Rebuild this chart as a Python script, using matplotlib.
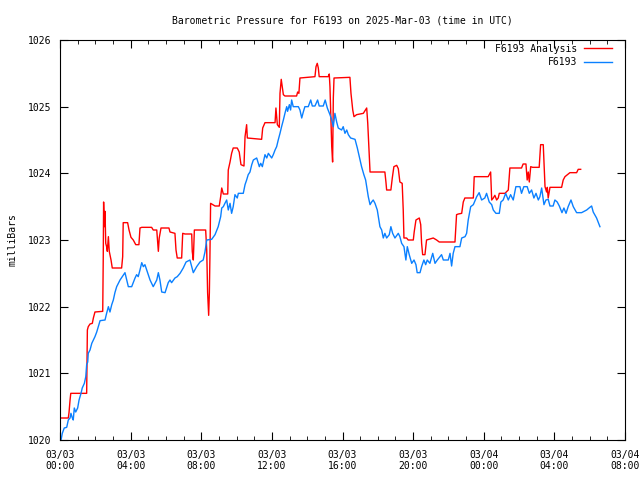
import pandas as pd
import matplotlib
matplotlib.use("Agg")
import matplotlib.pyplot as plt
import matplotlib.dates as mdates

# hours after 2025-03-03 00:00 UTC, pressure in mbar
analysis_hours = [0.00, 0.47, 0.51, 0.57, 0.61, 1.51, 1.55, 1.60, 1.70, 1.83, 1.89, 1.98, 2.42, 2.45,
                  2.47, 2.51, 2.55, 2.59, 2.64, 2.68, 2.74, 2.79, 2.89, 2.96, 3.49, 3.55, 3.58, 3.83,
                  3.91, 4.02, 4.15, 4.29, 4.47, 4.53, 4.63, 5.19, 5.28, 5.48, 5.57, 5.62, 5.72, 6.17,
                  6.23, 6.51, 6.57, 6.64, 6.89, 6.95, 7.08, 7.46, 7.49, 7.55, 7.61, 8.25, 8.31, 8.36,
                  8.42, 8.46, 8.49, 8.53, 8.78, 9.02, 9.10, 9.16, 9.25, 9.50, 9.53, 9.63, 9.72, 9.81,
                  10.04, 10.15, 10.25, 10.42, 10.48, 10.57, 10.61, 11.42, 11.48, 11.61, 12.18, 12.23,
                  12.31, 12.42, 12.46, 12.53, 12.65, 12.74, 13.40, 13.46, 13.53, 13.59, 14.44, 14.50,
                  14.57, 14.63, 14.68, 15.19, 15.25, 15.29, 15.39, 15.44, 15.48, 15.52, 16.42, 16.48,
                  16.58, 16.65, 16.80, 17.18, 17.37, 17.43, 17.52, 17.56, 18.40, 18.46, 18.50, 18.74,
                  18.82, 18.91, 19.07, 19.16, 19.25, 19.38, 19.44, 19.48, 19.63, 19.72, 20.01, 20.06,
                  20.16, 20.35, 20.43, 20.48, 20.54, 20.67, 20.76, 21.14, 21.33, 21.48, 22.37, 22.46,
                  22.56, 22.75, 22.84, 22.93, 23.41, 23.46, 24.25, 24.39, 24.45, 24.54, 24.63, 24.73,
                  24.82, 24.88, 25.20, 25.39, 25.48, 26.14, 26.23, 26.39, 26.46, 26.52, 26.58, 26.66,
                  26.77, 27.14, 27.22, 27.37, 27.47, 27.56, 27.60, 27.65, 27.75, 28.41, 28.50, 28.60,
                  28.88, 29.26, 29.35, 29.49]
analysis_mb = [1020.33, 1020.33, 1020.41, 1020.60, 1020.70, 1020.70, 1021.65, 1021.70, 1021.74, 1021.75,
               1021.83, 1021.92, 1021.93, 1022.75, 1023.57, 1023.20, 1023.43, 1022.95, 1022.90, 1022.83,
               1023.05, 1022.83, 1022.70, 1022.58, 1022.58, 1022.75, 1023.26, 1023.26, 1023.15, 1023.04,
               1023.00, 1022.93, 1022.93, 1023.18, 1023.19, 1023.19, 1023.15, 1023.15, 1022.83, 1023.03,
               1023.18, 1023.18, 1023.12, 1023.10, 1022.85, 1022.73, 1022.73, 1023.10, 1023.09, 1023.09,
               1022.83, 1022.70, 1023.15, 1023.15, 1022.85, 1022.21, 1021.87, 1022.21, 1022.73, 1023.55,
               1023.51, 1023.51, 1023.65, 1023.78, 1023.69, 1023.69, 1024.05, 1024.17, 1024.30, 1024.38,
               1024.38, 1024.32, 1024.13, 1024.11, 1024.55, 1024.73, 1024.53, 1024.51, 1024.68, 1024.76,
               1024.76, 1024.98, 1024.73, 1024.69, 1025.20, 1025.41, 1025.18, 1025.16, 1025.16, 1025.22,
               1025.20, 1025.43, 1025.45, 1025.60, 1025.65, 1025.58, 1025.45, 1025.45, 1025.49, 1025.30,
               1024.40, 1024.17, 1025.13, 1025.43, 1025.44, 1025.20, 1024.95, 1024.85, 1024.88, 1024.90,
               1024.98, 1024.75, 1024.25, 1024.02, 1024.02, 1023.87, 1023.75, 1023.75, 1023.93, 1024.10,
               1024.12, 1024.07, 1023.87, 1023.85, 1023.45, 1023.03, 1023.03, 1023.00, 1023.00, 1023.12,
               1023.30, 1023.33, 1023.23, 1022.95, 1022.78, 1022.78, 1023.00, 1023.03, 1023.00, 1022.97,
               1022.97, 1023.38, 1023.39, 1023.40, 1023.57, 1023.63, 1023.63, 1023.95, 1023.95, 1024.02,
               1023.60, 1023.63, 1023.67, 1023.60, 1023.63, 1023.70, 1023.70, 1023.75, 1024.08, 1024.08,
               1024.14, 1024.14, 1023.90, 1024.02, 1023.87, 1024.10, 1024.09, 1024.09, 1024.43, 1024.43,
               1023.80, 1023.72, 1023.79, 1023.63, 1023.79, 1023.79, 1023.90, 1023.95, 1024.01, 1024.01,
               1024.06, 1024.06]

station_hours = [0.06, 0.13, 0.24, 0.38, 0.47, 0.57, 0.62, 0.70, 0.75, 0.81, 0.89, 1.00, 1.08, 1.19,
                 1.26, 1.38, 1.46, 1.51, 1.57, 1.60, 1.70, 1.80, 1.89, 1.98, 2.08, 2.17, 2.27, 2.55,
                 2.64, 2.74, 2.83, 2.93, 3.02, 3.11, 3.21, 3.40, 3.68, 3.87, 4.06, 4.25, 4.34, 4.43,
                 4.53, 4.63, 4.72, 4.81, 4.91, 5.10, 5.28, 5.48, 5.57, 5.66, 5.76, 5.95, 6.13, 6.23,
                 6.32, 6.51, 6.64, 6.80, 6.98, 7.14, 7.36, 7.46, 7.55, 7.74, 7.93, 8.11, 8.21, 8.31,
                 8.59, 8.78, 8.96, 9.10, 9.16, 9.25, 9.34, 9.44, 9.53, 9.63, 9.72, 9.81, 9.91, 10.04,
                 10.10, 10.38, 10.48, 10.57, 10.66, 10.76, 10.86, 10.95, 11.14, 11.29, 11.37, 11.46,
                 11.61, 11.71, 11.80, 11.99, 12.08, 12.18, 12.27, 12.36, 12.46, 12.55, 12.65, 12.74,
                 12.84, 12.89, 12.99, 13.06, 13.12, 13.21, 13.50, 13.59, 13.69, 13.78, 13.87, 14.06,
                 14.20, 14.29, 14.44, 14.59, 14.68, 14.91, 15.02, 15.14, 15.29, 15.39, 15.48, 15.57,
                 15.67, 15.76, 15.95, 16.04, 16.14, 16.24, 16.33, 16.46, 16.71, 16.84, 16.95, 17.08,
                 17.21, 17.31, 17.37, 17.46, 17.56, 17.65, 17.74, 17.84, 17.97, 18.06, 18.12, 18.22,
                 18.31, 18.40, 18.50, 18.65, 18.74, 18.84, 18.97, 19.16, 19.25, 19.35, 19.48, 19.59,
                 19.67, 19.78, 19.92, 20.05, 20.16, 20.23, 20.39, 20.48, 20.61, 20.71, 20.80, 20.95,
                 21.11, 21.24, 21.37, 21.61, 21.71, 21.99, 22.09, 22.18, 22.27, 22.37, 22.65, 22.75,
                 22.94, 23.03, 23.12, 23.26, 23.41, 23.60, 23.74, 23.88, 24.06, 24.16, 24.31, 24.45,
                 24.54, 24.69, 24.88, 24.97, 25.10, 25.24, 25.39, 25.52, 25.67, 25.82, 26.05, 26.14,
                 26.27, 26.46, 26.58, 26.71, 26.84, 26.96, 27.09, 27.18, 27.28, 27.41, 27.52, 27.65,
                 27.75, 27.93, 28.03, 28.16, 28.28, 28.43, 28.54, 28.66, 28.78, 28.94, 29.07, 29.26,
                 29.54, 29.83, 30.01, 30.11, 30.20, 30.39, 30.58]
station_mb = [1020.00, 1020.10, 1020.18, 1020.19, 1020.30, 1020.33, 1020.40, 1020.33, 1020.30, 1020.48,
              1020.42, 1020.48, 1020.60, 1020.70, 1020.78, 1020.85, 1020.95, 1021.13, 1021.17, 1021.30,
              1021.35, 1021.45, 1021.50, 1021.55, 1021.62, 1021.70, 1021.79, 1021.80, 1021.90, 1022.00,
              1021.92, 1022.03, 1022.10, 1022.21, 1022.30, 1022.40, 1022.51, 1022.30, 1022.30, 1022.43,
              1022.48, 1022.45, 1022.55, 1022.66, 1022.60, 1022.63, 1022.55, 1022.40, 1022.30, 1022.40,
              1022.51, 1022.40, 1022.22, 1022.21, 1022.36, 1022.40, 1022.36, 1022.43, 1022.45, 1022.50,
              1022.58, 1022.67, 1022.70, 1022.60, 1022.51, 1022.60, 1022.67, 1022.70, 1022.82, 1023.00,
              1023.01, 1023.08, 1023.20, 1023.35, 1023.48, 1023.50, 1023.55, 1023.60, 1023.45, 1023.55,
              1023.40, 1023.50, 1023.68, 1023.63, 1023.70, 1023.70, 1023.83, 1023.90, 1023.98, 1024.02,
              1024.13, 1024.20, 1024.23, 1024.10, 1024.15, 1024.10, 1024.28, 1024.23, 1024.30, 1024.23,
              1024.28, 1024.35, 1024.40, 1024.50, 1024.60, 1024.70, 1024.80, 1024.90, 1025.00, 1024.93,
              1025.03, 1024.95, 1025.10, 1025.00, 1025.00, 1024.95, 1024.83, 1024.92, 1025.00, 1025.00,
              1025.10, 1025.01, 1025.01, 1025.10, 1025.01, 1025.01, 1025.10, 1024.98, 1024.88, 1024.80,
              1024.70, 1024.90, 1024.77, 1024.68, 1024.65, 1024.70, 1024.60, 1024.65, 1024.58, 1024.53,
              1024.51, 1024.38, 1024.25, 1024.10, 1023.98, 1023.90, 1023.80, 1023.65, 1023.53, 1023.57,
              1023.60, 1023.55, 1023.45, 1023.30, 1023.20, 1023.15, 1023.03, 1023.10, 1023.03, 1023.08,
              1023.20, 1023.10, 1023.03, 1023.10, 1023.05, 1022.95, 1022.90, 1022.70, 1022.90, 1022.78,
              1022.65, 1022.70, 1022.63, 1022.51, 1022.51, 1022.60, 1022.70, 1022.63, 1022.70, 1022.65,
              1022.80, 1022.65, 1022.70, 1022.78, 1022.70, 1022.70, 1022.80, 1022.61, 1022.80, 1022.90,
              1022.90, 1023.03, 1023.05, 1023.10, 1023.30, 1023.50, 1023.53, 1023.65, 1023.71, 1023.60,
              1023.63, 1023.70, 1023.57, 1023.53, 1023.45, 1023.40, 1023.40, 1023.57, 1023.60, 1023.70,
              1023.60, 1023.68, 1023.60, 1023.80, 1023.80, 1023.70, 1023.80, 1023.80, 1023.70, 1023.75,
              1023.63, 1023.70, 1023.60, 1023.65, 1023.78, 1023.53, 1023.60, 1023.61, 1023.51, 1023.51,
              1023.60, 1023.57, 1023.51, 1023.41, 1023.48, 1023.40, 1023.50, 1023.60, 1023.50, 1023.41,
              1023.41, 1023.45, 1023.49, 1023.51, 1023.42, 1023.33, 1023.20]

start = pd.Timestamp("2025-03-03 00:00")
t_analysis = start + pd.to_timedelta(analysis_hours, unit="h")
t_station = start + pd.to_timedelta(station_hours, unit="h")

plt.rcParams["font.family"] = "DejaVu Sans Mono"
plt.rcParams["font.size"] = 7

fig = plt.figure(figsize=(6.4, 4.8), dpi=100)
ax = fig.add_axes([60 / 640, 40 / 480, 565 / 640, 400 / 480])

ax.plot(t_analysis, analysis_mb, color="#ff0000", lw=1, label="F6193 Analysis")
ax.plot(t_station, station_mb, color="#0a80ff", lw=1, label="F6193")

ax.set_xlim(start, start + pd.Timedelta(hours=32))
ax.set_ylim(1020, 1026)
ax.set_yticks(range(1020, 1027))
ax.xaxis.set_major_locator(mdates.HourLocator(byhour=[0, 4, 8, 12, 16, 20]))
ax.xaxis.set_minor_locator(mdates.HourLocator())
ax.xaxis.set_major_formatter(mdates.DateFormatter("%m/%d\n%H:%M"))
ax.tick_params(which="both", direction="in", top=True, right=True, labelsize=7)
ax.tick_params(which="major", length=6)
ax.tick_params(which="minor", length=3)
ax.tick_params(axis="x", pad=7)
ax.tick_params(axis="y", pad=6)

ax.set_title("Barometric Pressure for F6193 on 2025-Mar-03 (time in UTC)", fontsize=7, pad=12)
ax.set_ylabel("milliBars", labelpad=8)

# legend: text right-aligned, line sample after it
leg = ax.legend(loc="upper right", bbox_to_anchor=(0.984, 1.0), frameon=False, markerfirst=False,
                handlelength=2.9, borderaxespad=0, labelspacing=0.35, handletextpad=0.7, fontsize=7)
for txt in leg.get_texts():
    txt.set_ha("right")

plt.savefig("out.png", dpi=100)
